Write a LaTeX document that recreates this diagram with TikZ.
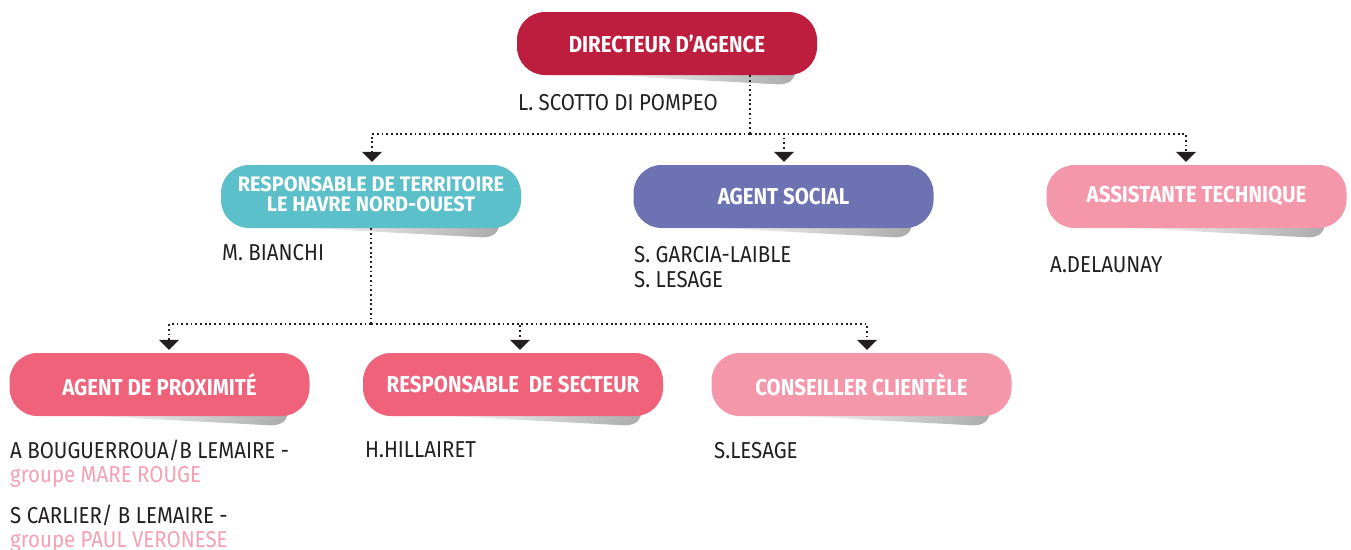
\documentclass[tikz,border=0pt]{standalone}
\usepackage{fontspec}
\setmainfont{Fira Sans}[FakeStretch=0.89]
\newfontfamily\twofont{Fira Sans}[FakeStretch=0.95]
\usetikzlibrary{arrows.meta,calc}
\definecolor{dirred}{HTML}{BE1E3D}
\definecolor{teal}{HTML}{5BC0C9}
\definecolor{purple}{HTML}{6D72B3}
\definecolor{lightpink}{HTML}{F497AA}
\definecolor{pinkred}{HTML}{F0617A}
\definecolor{pinktxt}{HTML}{F5A0B3}
\definecolor{ink}{HTML}{231F20}
\tikzset{
  box/.style={rounded corners=28pt, minimum width=300pt, minimum height=63pt,
    text=white, font=\fontsize{23}{18}\selectfont\bfseries, align=center, inner sep=0pt},
  twoline/.style={font=\twofont\fontsize{21}{17.5}\selectfont\bfseries},
  lbl/.style={anchor=base west, inner sep=0pt, text=ink, font=\fontsize{23}{24}\selectfont},
  conn/.style={line width=1.8pt, dash pattern=on 1.8pt off 2.9pt, ink,
    -{Triangle[width=20pt,length=10pt]}, shorten >=3pt},
  plain/.style={line width=1.8pt, dash pattern=on 1.8pt off 2.9pt, ink}
}
\newcommand\boxshadow[1]{%
  \shade[left color=white, right color=black!33]
    ($(#1.south west)+(70,-1)$) -- ($(#1.south east)+(-42,9)$)
    .. controls ($(#1.south east)+(-30,10)$) and ($(#1.south east)+(-24,6)$) ..
    ($(#1.south east)+(-22,-2)$) -- cycle;}
\begin{document}
\begin{tikzpicture}[x=1pt,y=-1pt]
\useasboundingbox (0,0) rectangle (1351,549);
% box positions
\coordinate (pdir) at (667,43.5);
\coordinate (prt) at (371,196.5);
\coordinate (pas) at (783.5,196.5);
\coordinate (pat) at (1196.5,196.5);
\coordinate (pap) at (159.5,384.5);
\coordinate (prs) at (513,384.5);
\coordinate (pcc) at (861.5,384.5);
% shadows (drawn first, under the boxes)
\path (pdir) node[box] (dir) {};
\path (prt) node[box] (rt) {};
\path (pas) node[box] (as) {};
\path (pat) node[box] (at) {};
\path (pap) node[box] (ap) {};
\path (prs) node[box] (rs) {};
\path (pcc) node[box] (cc) {};
\boxshadow{dir}\boxshadow{rt}\boxshadow{as}\boxshadow{at}\boxshadow{ap}\boxshadow{rs}\boxshadow{cc}
% boxes
\node[box, fill=dirred] (dir) at (pdir) {DIRECTEUR D’AGENCE};
\node[box, twoline, fill=teal] (rt) at (prt) {\raisebox{-1.5pt}{\begin{tabular}{@{}c@{}}RESPONSABLE DE TERRITOIRE\\LE HAVRE NORD-OUEST\end{tabular}}};
\node[box, fill=purple] (as) at (pas) {AGENT SOCIAL};
\node[box, fill=lightpink] (at) at (pat) {ASSISTANTE TECHNIQUE};
\node[box, fill=pinkred] (ap) at (pap) {AGENT DE PROXIMITÉ};
\node[box, fill=pinkred] (rs) at (prs) {RESPONSABLE\ \ DE SECTEUR};
\node[box, fill=lightpink] (cc) at (pcc) {CONSEILLER CLIENTÈLE};
% connectors
\coordinate (j1) at (750,134);
\coordinate (j2) at (371,324);
\draw[plain] (dir.south -| j1) -- (j1);
\draw[conn] (j1) -| ($(rt.north)+(1,0)$);
\draw[conn] (j1) -| ($(as.north)+(0.5,0)$);
\draw[conn] (j1) -| ($(at.north)+(-10.5,0)$);
\draw[plain] (rt.south) -- (j2);
\draw[conn] (j2) -| ($(ap.north)+(9.5,0)$);
\draw[conn] (j2) -| ($(rs.north)+(7,0)$);
\draw[conn] (j2) -| ($(cc.north)+(5.5,0)$);
% labels
\node[lbl] (n0) at (518,110) {L. SCOTTO DI POMPEO};
\node[lbl] (n1) at (222,260) {M. BIANCHI};
\node[lbl] (n2) at (634,262) {S. GARCIA-LAIBLE};
\node[lbl] (n3) at (634,287) {S. LESAGE};
\node[lbl] (n4) at (1050,272) {A.DELAUNAY};
\node[lbl] (n5) at (10,458) {A BOUGUERROUA/B LEMAIRE -};
\node[lbl, text=pinktxt] (n6) at (10,482) {groupe MARE ROUGE};
\node[lbl] (n7) at (10,523) {S CARLIER/ B LEMAIRE -};
\node[lbl, text=pinktxt] (n8) at (10,547) {groupe PAUL VERONESE};
\node[lbl] (n9) at (365,457) {H.HILLAIRET};
\node[lbl] (n10) at (714,458) {S.LESAGE};
\end{tikzpicture}
\end{document}
